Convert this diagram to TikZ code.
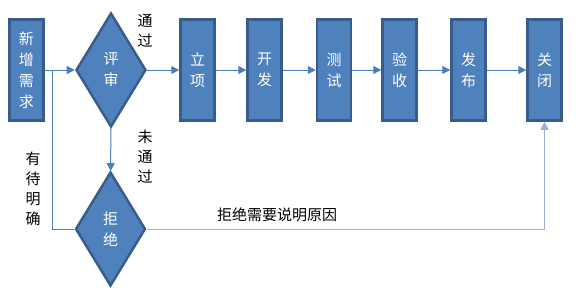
\documentclass[tikz,border=0pt]{standalone}
\usepackage{fontspec}
\newfontfamily\cjk{Noto Sans CJK SC}
\usetikzlibrary{shapes.geometric,arrows.meta}
\definecolor{boxfill}{HTML}{4F81BD}
\definecolor{boxline}{HTML}{385D8A}
\definecolor{flow}{HTML}{4A7EBB}
\definecolor{flowlight}{HTML}{95B3D7}

\begin{document}
\begin{tikzpicture}[x=1pt, y=-1pt,
  font=\cjk\fontsize{15}{21}\selectfont,
  stage/.style={draw=boxline, line width=2.5pt, fill=boxfill, text=white,
    align=center, inner sep=0pt, minimum width=34pt, minimum height=101pt},
  check/.style={diamond, draw=boxline, line width=2.5pt, fill=boxfill, text=white,
    align=center, inner sep=0pt, minimum width=70pt, minimum height=114pt},
  flowarrow/.style={draw=flow, line width=1pt, -{Triangle[length=8pt,width=8pt]}},
  label/.style={align=center, inner sep=0pt, font=\cjk\fontsize{15}{20}\selectfont}]
\useasboundingbox (0,0) rectangle (576,290);
% stages
\node[stage] (req) at (26.5,70) {新\\增\\需\\求};
\node[check] (review) at (111,70) {评\\审};
\node[stage] (setup) at (197.5,70) {立\\项};
\node[stage] (dev) at (264.5,70) {开\\发};
\node[stage] (test) at (334,70) {测\\试};
\node[stage] (accept) at (399.5,70) {验\\收};
\node[stage] (release) at (468.5,70) {发\\布};
\node[stage] (close) at (544.5,70) {关\\闭};
\node[check] (reject) at (110.5,229) {拒\\绝};
% main flow
\draw[flowarrow] (req) -- (review);
\draw[flowarrow] (review) -- (setup);
\draw[flowarrow] (setup) -- (dev);
\draw[flowarrow] (dev) -- (test);
\draw[flowarrow] (test) -- (accept);
\draw[flowarrow] (accept) -- (release);
\draw[flowarrow] (release) -- (close);
\draw[flowarrow] (review) -- (reject);
% side lines
\coordinate (split) at (52,70);
\draw[draw=flow, line width=1pt] (split) |- (reject.west);
\draw[flowarrow, draw=flowlight] (reject.east) -| (close.south);
% labels
\node[label] (pass) at (145,31) {通\\过};
\node[label] (fail) at (145,157) {未\\通\\过};
\node[label] (unclear) at (33,188.5) {有\\待\\明\\确};
\node[label] (reason) at (277,215) {拒绝需要说明原因};
\end{tikzpicture}
\end{document}
